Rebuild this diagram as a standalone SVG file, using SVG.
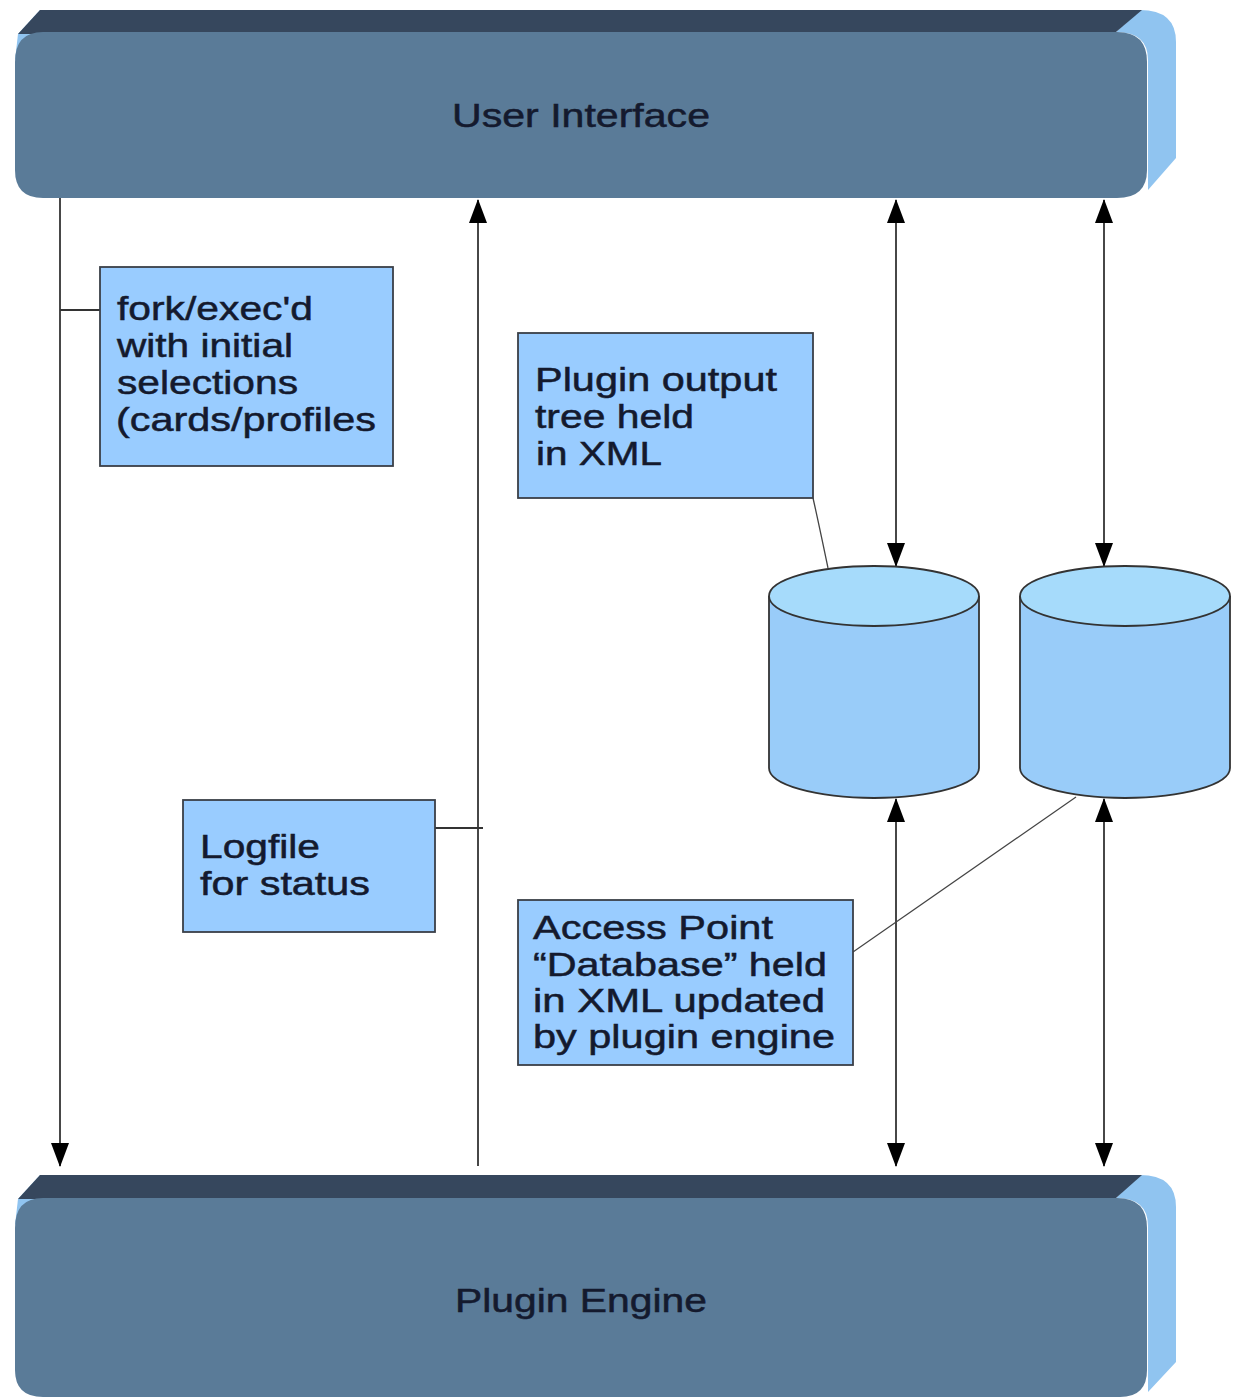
<svg xmlns="http://www.w3.org/2000/svg" width="1237" height="1397" viewBox="0 0 1237 1397">
<style>
.txt{font-family:"Liberation Sans",Arial,sans-serif;font-size:33px;fill:#141a2e;stroke:#141a2e;stroke-width:0.5;}
.box{fill:#99ccff;stroke:#3a3f47;stroke-width:1.8;}
.cylb{fill:#99ccf9;stroke:#333;stroke-width:1.8;}
.cylt{fill:#a6dbfb;stroke:#333;stroke-width:1.8;}
.ln{stroke:#333;stroke-width:1.8;fill:none;}
.thin{stroke:#444;stroke-width:1.3;fill:none;}
.front{fill:#5a7b98;}
.topf{fill:#36475d;}
.side{fill:#90c4f0;}
</style>
<defs>
<marker id="ah" viewBox="0 0 24 18" refX="23" refY="9" markerWidth="24" markerHeight="18" markerUnits="userSpaceOnUse" orient="auto-start-reverse">
<path d="M0,0 L24,9 L0,18 Z" fill="#000"/>
</marker>
</defs>
<rect width="1237" height="1397" fill="#fff"/>

<g id="user-interface">
<path class="side" d="M1140,10 Q1176,10 1176,42 L1176,158 L1148,190 L1148,60 Q1148,32 1116,32 Z"/>
<path class="side" d="M40,10 L18,34 L15,60 L40,32 Z"/>
<path class="topf" d="M40,10 L1142,10 L1116,32 L18,34 Z"/>
<path class="front" d="M43,32 L1117,32 Q1147,32 1147,62 L1147,170 Q1147,198 1117,198 L43,198 Q15,198 15,170 L15,62 Q15,32 43,32 Z"/>
<text class="txt" x="452" y="127" textLength="258" lengthAdjust="spacingAndGlyphs">User Interface</text>
</g>

<g id="plugin-engine">
<path class="side" d="M1140,1175 Q1176,1175 1176,1207 L1176,1362 L1148,1392 L1148,1226 Q1148,1198 1116,1198 Z"/>
<path class="side" d="M40,1175 L18,1199 L15,1225 L40,1197 Z"/>
<path class="topf" d="M40,1175 L1142,1175 L1116,1198 L18,1199 Z"/>
<path class="front" d="M43,1198 L1117,1198 Q1147,1198 1147,1228 L1147,1370 Q1147,1397 1120,1397 L43,1397 Q15,1397 15,1370 L15,1228 Q15,1198 43,1198 Z"/>
<text class="txt" x="455" y="1312" textLength="252" lengthAdjust="spacingAndGlyphs">Plugin Engine</text>
</g>

<g id="connectors">
<line class="ln" x1="60" y1="198" x2="60" y2="1166" marker-end="url(#ah)"/>
<line class="ln" x1="60" y1="310" x2="100" y2="310"/>
<line class="ln" x1="478" y1="1166" x2="478" y2="200" marker-end="url(#ah)"/>
<line class="ln" x1="435" y1="828" x2="483" y2="828"/>
<line class="ln" x1="896" y1="200" x2="896" y2="566" marker-start="url(#ah)" marker-end="url(#ah)"/>
<line class="ln" x1="1104" y1="200" x2="1104" y2="566" marker-start="url(#ah)" marker-end="url(#ah)"/>
<line class="ln" x1="896" y1="799" x2="896" y2="1166" marker-start="url(#ah)" marker-end="url(#ah)"/>
<line class="ln" x1="1104" y1="799" x2="1104" y2="1166" marker-start="url(#ah)" marker-end="url(#ah)"/>
<path class="thin" d="M813,498 Q818,520 828,568"/>
<line class="thin" x1="853" y1="952" x2="1076" y2="797"/>
</g>

<g id="cylinder-1">
<path class="cylb" d="M769,596 L769,768 A105,30 0 0 0 979,768 L979,596"/>
<ellipse class="cylt" cx="874" cy="596" rx="105" ry="30"/>
</g>

<g id="cylinder-2">
<path class="cylb" d="M1020,596 L1020,768 A105,30 0 0 0 1230,768 L1230,596"/>
<ellipse class="cylt" cx="1125" cy="596" rx="105" ry="30"/>
</g>

<g id="fork-box">
<rect class="box" x="100" y="267" width="293" height="199"/>
<text class="txt" x="117" y="320" textLength="196" lengthAdjust="spacingAndGlyphs">fork/exec'd</text>
<text class="txt" x="117" y="357" textLength="176" lengthAdjust="spacingAndGlyphs">with initial</text>
<text class="txt" x="117" y="394" textLength="181" lengthAdjust="spacingAndGlyphs">selections</text>
<text class="txt" x="116" y="431" textLength="260" lengthAdjust="spacingAndGlyphs">(cards/profiles</text>
</g>

<g id="plugin-output-box">
<rect class="box" x="518" y="333" width="295" height="165"/>
<text class="txt" x="535" y="391" textLength="242" lengthAdjust="spacingAndGlyphs">Plugin output</text>
<text class="txt" x="535" y="428" textLength="159" lengthAdjust="spacingAndGlyphs">tree held</text>
<text class="txt" x="536" y="465" textLength="126" lengthAdjust="spacingAndGlyphs">in XML</text>
</g>

<g id="logfile-box">
<rect class="box" x="183" y="800" width="252" height="132"/>
<text class="txt" x="200" y="858" textLength="120" lengthAdjust="spacingAndGlyphs">Logfile</text>
<text class="txt" x="200" y="895" textLength="170" lengthAdjust="spacingAndGlyphs">for status</text>
</g>

<g id="access-point-box">
<rect class="box" x="518" y="900" width="335" height="165"/>
<text class="txt" x="533" y="939" textLength="240" lengthAdjust="spacingAndGlyphs">Access Point</text>
<text class="txt" x="533" y="976" textLength="294" lengthAdjust="spacingAndGlyphs">“Database” held</text>
<text class="txt" x="533" y="1012" textLength="292" lengthAdjust="spacingAndGlyphs">in XML updated</text>
<text class="txt" x="533" y="1048" textLength="302" lengthAdjust="spacingAndGlyphs">by plugin engine</text>
</g>
</svg>
